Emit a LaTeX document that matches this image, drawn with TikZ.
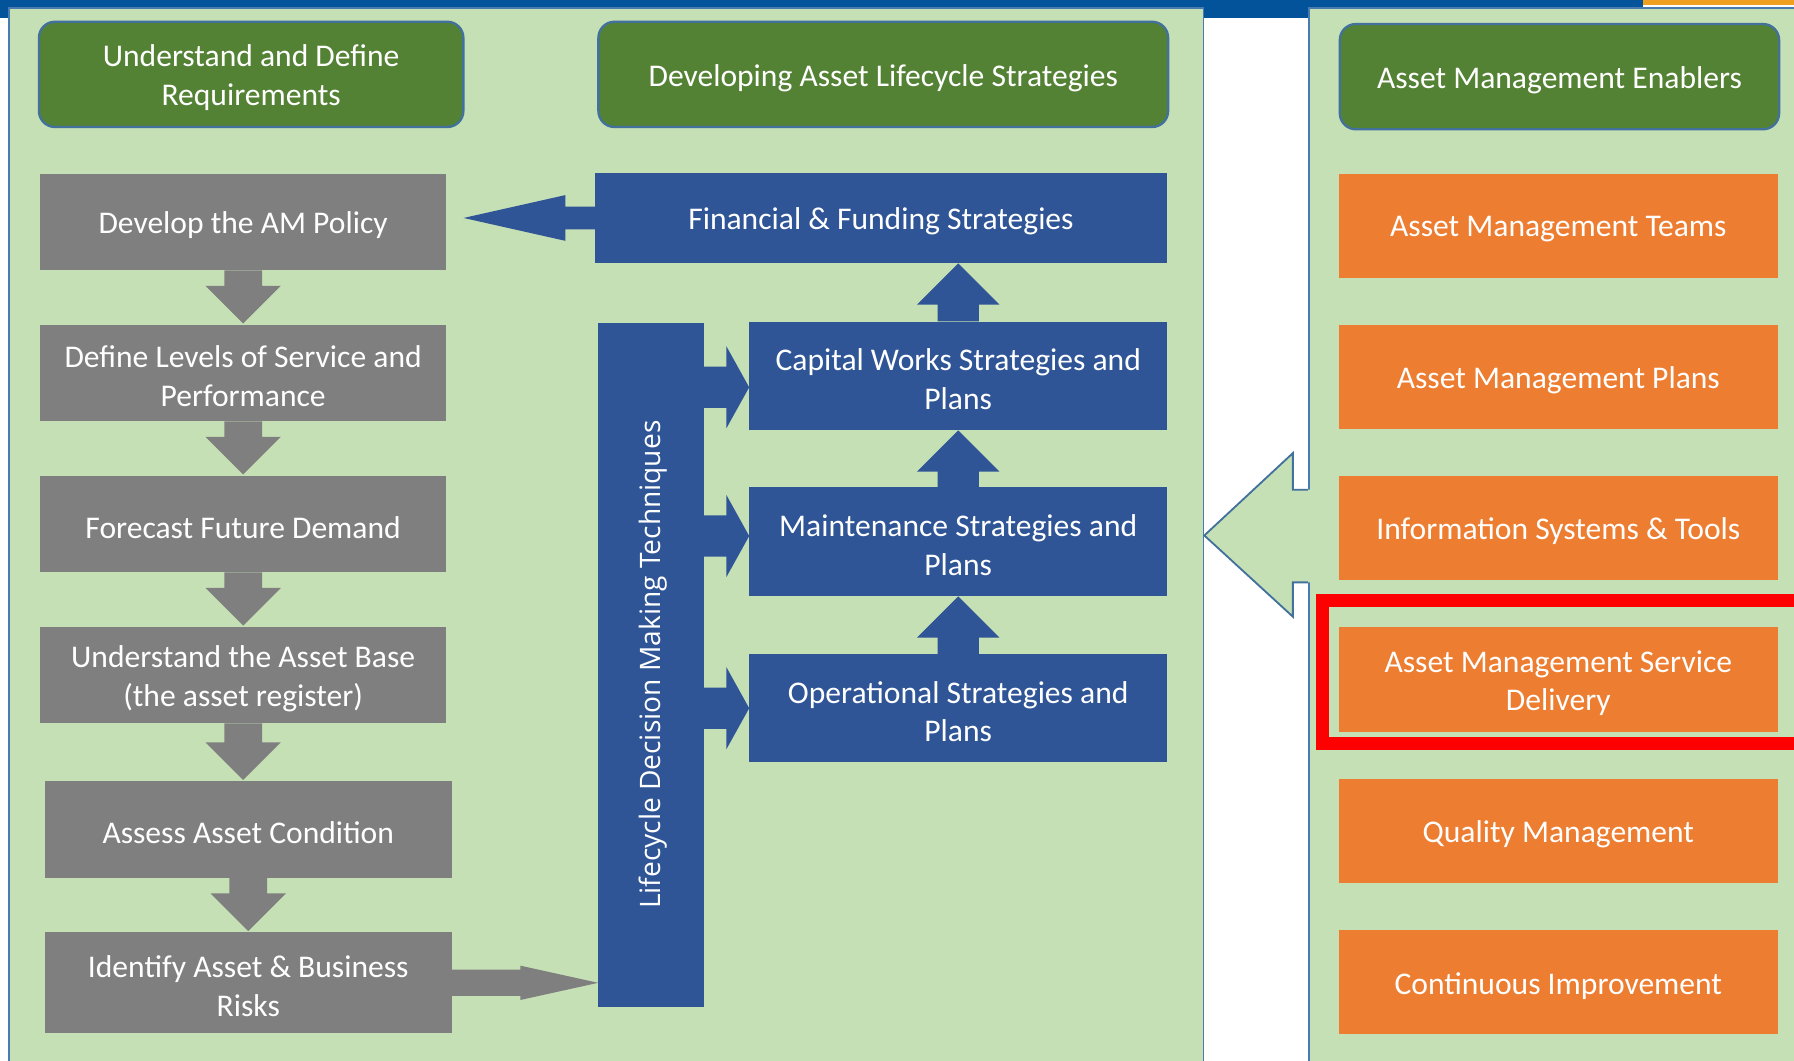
\documentclass[tikz,border=0pt]{standalone}
\usepackage{fontspec}
\setmainfont{Carlito}
\newfontfamily\lcfont{Open Sans}
\usetikzlibrary{calc}
\definecolor{panelfill}{HTML}{C5E0B4}
\definecolor{panelline}{HTML}{4A7BB0}
\definecolor{hdrgreen}{HTML}{548235}
\definecolor{hdrline}{HTML}{41719C}
\definecolor{boxgrey}{HTML}{7F7F7F}
\definecolor{boxblue}{HTML}{2F5597}
\definecolor{boxorange}{HTML}{ED7D31}
\definecolor{topblue}{HTML}{03539B}
\definecolor{toporange}{HTML}{F0A020}
\definecolor{redmark}{HTML}{FF0000}
\tikzset{
  txt/.style={text=white, font=\fontsize{27.6}{33.8}\selectfont, align=center, inner sep=0pt},
  hdr/.style={fill=hdrgreen, draw=hdrline, line width=2pt, rounded corners=14pt},
  greybox/.style={fill=boxgrey},
  bluebox/.style={fill=boxblue},
  orangebox/.style={fill=boxorange},
  panel/.style={fill=panelfill, draw=panelline, line width=1.6pt},
}
% box node: name, x1, y1, x2, y2, style, text
\newcommand{\boxat}[7]{\node[#6, inner sep=0pt, minimum width={#4-#2}, minimum height={#5-#3},
  label={[txt, yshift=-3pt]center:#7}] (#1) at ({(#2+#4)/2},{-(#3+#5)/2}) {};}
% grey downward block arrow from node #1 to node #2
\newcommand{\greydown}[2]{\fill[boxgrey] let \p1=(#1.south), \p2=(#2.north) in
  (\x1-16.5pt,\y1) -- (\x1+16.5pt,\y1) -- (\x1+16.5pt,\y2+34pt) -- (\x1+33pt,\y2+34pt)
  -- (\x1,\y2+1pt) -- (\x1-33pt,\y2+34pt) -- (\x1-16.5pt,\y2+34pt) -- cycle;}
% blue upward block arrow from node #1 (below) to node #2 (above)
\newcommand{\blueup}[2]{\fill[boxblue] let \p1=(#1.north), \p2=(#2.south) in
  (\x1-18pt,\y1) -- (\x1+18pt,\y1) -- (\x1+18pt,\y2-36pt) -- (\x1+36pt,\y2-36pt)
  -- (\x1,\y2) -- (\x1-36pt,\y2-36pt) -- (\x1-18pt,\y2-36pt) -- cycle;}
% blue rightward block arrow from bar #1 to box #2, vertical offset #3
\newcommand{\blueright}[3]{\fill[boxblue] let \p1=(#1.east), \p2=(#2.west) in
  (\x1-1pt,\y2+#3+18pt) -- (\x2-20pt,\y2+#3+18pt) -- (\x2-20pt,\y2+#3+36pt) -- (\x2,\y2+#3)
  -- (\x2-20pt,\y2+#3-36pt) -- (\x2-20pt,\y2+#3-18pt) -- (\x1-1pt,\y2+#3-18pt) -- cycle;}
\begin{document}
\begin{tikzpicture}[x=1pt,y=1pt]
\clip (0,0) rectangle (1568,-927);
\fill[white] (0,0) rectangle (1568,-927);
% top bars
\fill[topblue] (0,0) rectangle (1436,-16);
\fill[toporange] (1436,0) rectangle (1568,-4.5);
% panels
\node[panel, minimum width=1044pt, minimum height=940pt, anchor=north west, inner sep=0pt] (lpanel) at (7,-6) {};
\node[panel, minimum width=450pt, minimum height=940pt, anchor=north west, inner sep=0pt] (rpanel) at (1143,-6) {};
% headers
\boxat{h1}{34}{19}{405}{111}{hdr}{Understand and Define\\Requirements}
\boxat{h2}{523}{19}{1021}{111}{hdr}{Developing Asset Lifecycle Strategies}
\boxat{h3}{1171}{21}{1555}{113}{hdr}{Asset Management Enablers}
% grey column
\boxat{g1}{35}{152}{390}{236}{greybox}{Develop the AM Policy}
\boxat{g2}{35}{284}{390}{368}{greybox}{Define Levels of Service and\\Performance}
\boxat{g3}{35}{416}{390}{500}{greybox}{Forecast Future Demand}
\boxat{g4}{35}{548}{390}{632}{greybox}{Understand the Asset Base\\(the asset register)}
\boxat{g5}{39}{683}{395}{767}{greybox}{Assess Asset Condition}
\boxat{g6}{39}{815}{395}{903}{greybox}{Identify Asset \& Business\\Risks}
\greydown{g1}{g2}
\greydown{g2}{g3}
\greydown{g3}{g4}
\greydown{g4}{g5}
\greydown{g5}{g6}
% blue column
\boxat{fin}{520}{151}{1020}{230}{bluebox}{Financial \& Funding Strategies}
\boxat{cap}{655}{281}{1020}{376}{bluebox}{Capital Works Strategies and\\Plans}
\boxat{mnt}{655}{426}{1020}{521}{bluebox}{Maintenance Strategies and\\Plans}
\boxat{ops}{655}{572}{1020}{666}{bluebox}{Operational Strategies and\\Plans}
\boxat{lc}{523}{282}{615}{880}{bluebox}{}
\node[text=white, rotate=90, font=\lcfont\fontsize{24.6}{29}\selectfont] (lctext) at ([xshift=2pt]lc.center) {Lifecycle Decision Making Techniques};
\blueup{cap}{fin}
\blueup{mnt}{cap}
\blueup{ops}{mnt}
\blueright{lc}{cap}{-10pt}
\blueright{lc}{mnt}{5pt}
\blueright{lc}{ops}{0pt}
% blue left arrow from financial to policy
\fill[boxblue] let \p1=(fin.west), \p2=(g1.east) in
  (\x1+1pt,\y1+10pt) -- (\x2+104pt,\y1+10pt) -- (\x2+104pt,\y1+20pt) -- (\x2+15pt,\y1)
  -- (\x2+104pt,\y1-20pt) -- (\x2+104pt,\y1-10pt) -- (\x1+1pt,\y1-10pt) -- cycle;
% grey right arrow from risks to lifecycle bar
\fill[boxgrey] let \p1=(g6.east), \p2=(lc.west) in
  (\x1-1pt,\y1+11.5pt) -- (\x2-68pt,\y1+11.5pt) -- (\x2-68pt,\y1+15pt) -- (\x2,\y1)
  -- (\x2-68pt,\y1-15pt) -- (\x2-68pt,\y1-11.5pt) -- (\x1-1pt,\y1-11.5pt) -- cycle;
% orange enablers
\boxat{o1}{1170}{152}{1554}{243}{orangebox}{Asset Management Teams}
\boxat{o2}{1170}{284}{1554}{375}{orangebox}{Asset Management Plans}
\boxat{o3}{1170}{416}{1554}{507}{orangebox}{Information Systems \& Tools}
\boxat{o4}{1170}{548}{1554}{640}{orangebox}{Asset Management Service\\Delivery}
\boxat{o5}{1170}{681}{1554}{772}{orangebox}{Quality Management}
\boxat{o6}{1170}{813}{1554}{904}{orangebox}{Continuous Improvement}
% big outline arrow from enablers panel to left panel
\coordinate (bigtip) at (lpanel.east |- 0,-468);
\fill[panelfill] let \p1=(bigtip), \p2=(rpanel.west) in
  (\x2+2pt,-428) -- (\x2-13pt,-428) -- (\x2-13pt,-396) -- (\p1) -- (\x2-13pt,-539)
  -- (\x2-13pt,-509) -- (\x2+2pt,-509) -- cycle;
\draw[hdrline, line width=1.6pt, line join=miter] let \p1=(bigtip), \p2=(rpanel.west) in
  (\x2,-428) -- (\x2-13pt,-428) -- (\x2-13pt,-396) -- (\p1) -- (\x2-13pt,-539)
  -- (\x2-13pt,-509) -- (\x2,-509);
% red highlight
\draw[redmark, line width=11pt] (1156,-525) rectangle (1620,-650);
\end{tikzpicture}
\end{document}
